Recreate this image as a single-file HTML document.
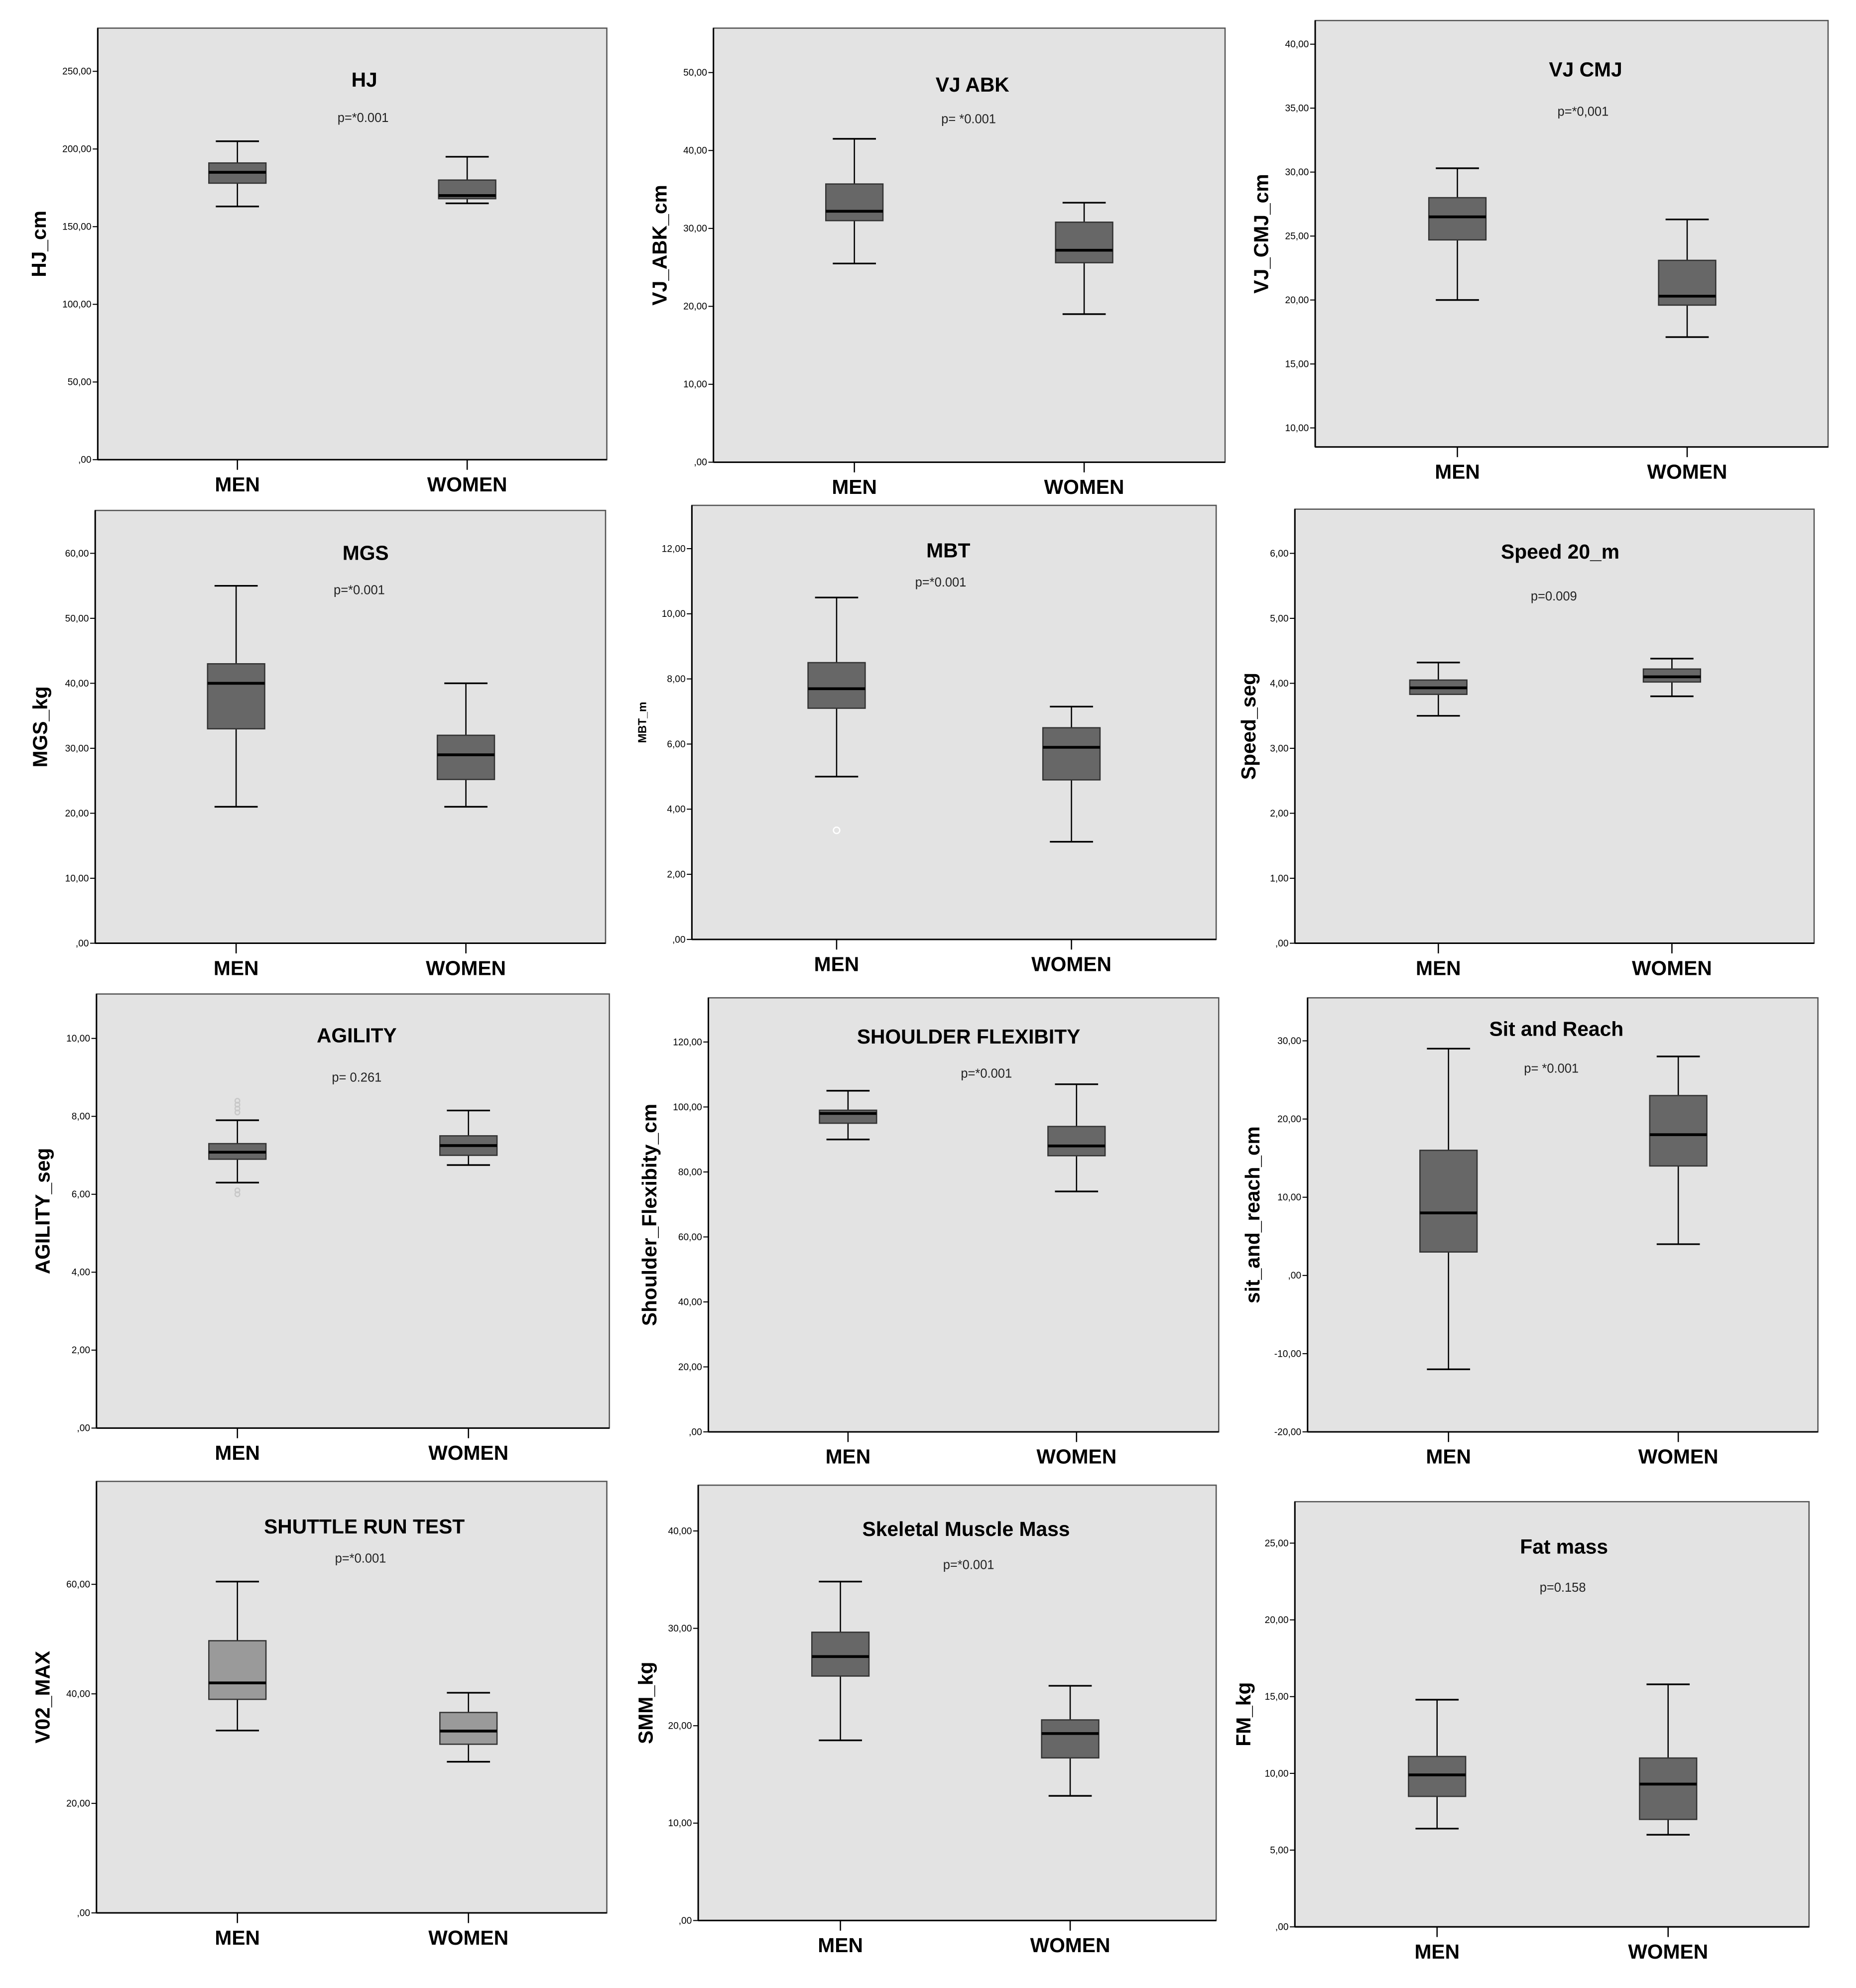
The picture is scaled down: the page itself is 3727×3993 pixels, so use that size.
<!DOCTYPE html>
<html><head><meta charset="utf-8"><style>
html,body{margin:0;padding:0;background:#fff;}
svg{display:block;}
text{font-family:"Liberation Sans",Arial,sans-serif;}
</style></head>
<body>
<svg id="fig" width="3727" height="3993" viewBox="0 0 1462 1566" xmlns="http://www.w3.org/2000/svg"></svg>
<script>
// ---- data ----
const categories = ["MEN", "WOMEN"];
const titles = ["HJ","VJ ABK","VJ CMJ","MGS","MBT","Speed 20_m","AGILITY","SHOULDER FLEXIBITY","Sit and Reach","SHUTTLE RUN TEST","Skeletal Muscle Mass","Fat mass"];
const pvalues = ["p=*0.001","p= *0.001","p=*0,001","p=*0.001","p=*0.001","p=0.009","p= 0.261","p=*0.001","p= *0.001","p=*0.001","p=*0.001","p=0.158"];
const yTitles = ["HJ_cm","VJ_ABK_cm","VJ_CMJ_cm","MGS_kg","MBT_m","Speed_seg","AGILITY_seg","Shoulder_Flexibity_cm","sit_and_reach_cm","V02_MAX","SMM_kg","FM_kg"];
const yDomains = [[0,277.8],[0,55.7],[8.51,41.85],[0,66.6],[0,13.33],[0,6.68],[0,11.14],[0,133.6],[-20,35.5],[0,78.8],[0,44.7],[0,27.7]];
const yTicks = [[0,50,100,150,200,250],[0,10,20,30,40,50],[10,15,20,25,30,35,40],[0,10,20,30,40,50,60],[0,2,4,6,8,10,12],[0,1,2,3,4,5,6],[0,2,4,6,8,10],[0,20,40,60,80,100,120],[-20,-10,0,10,20,30],[0,20,40,60],[0,10,20,30,40],[0,5,10,15,20,25]];
// [whiskerLow, q1, median, q3, whiskerHigh] per category
const menStats = [[163,178,185,191,205],[25.5,31,32.2,35.7,41.5],[20,24.7,26.5,28,30.3],[21,33,40,43,55],[5,7.1,7.7,8.5,10.5],[3.5,3.83,3.93,4.05,4.32],[6.3,6.9,7.08,7.3,7.9],[90,95,98,99,105],[-12,3,8,16,29],[33.3,39,42,49.7,60.5],[18.5,25.1,27.1,29.6,34.8],[6.4,8.5,9.9,11.1,14.8]];
const womenStats = [[165,168,170,180,195],[19,25.6,27.2,30.8,33.3],[17.1,19.6,20.3,23.1,26.3],[21,25.2,29,32,40],[3,4.9,5.9,6.5,7.15],[3.8,4.02,4.1,4.22,4.38],[6.75,7.0,7.25,7.5,8.15],[74,85,88,94,107],[4,14,18,23,28],[27.6,30.8,33.2,36.6,40.2],[12.8,16.7,19.2,20.6,24.1],[6,7,9.3,11,15.8]];
const outlierPanel = [4,6,6,6,6,6,6];
const outlierValues = [3.35,6.0,6.1,8.1,8.2,8.3,8.4];

// ---- layout ----
const frames = [[77,22,478,362],[562,22,965,364],[1036,16,1440,352],[75,402,477,743],[545,398,958,740],[1020,401,1429,743],[76,783,480,1125],[558,786,960,1128],[1030,786,1432,1128],[76,1167,478,1507],[550,1170,958,1513],[1020,1183,1425,1518]];
const catX = [[187,368],[673,854],[1148,1329],[186,367],[659,844],[1133,1317],[187,369],[668,848],[1141,1322],[187,369],[662,843],[1132,1314]];
const titleY = [62,66,54,435,433,434,815,816,810,1202,1204,1218];
const pY = [92,93,87,464,458,469,848,845,841,1227,1232,1250];
const titleX = [287,766,1249,288,747,1229,281,763,1226,287,761,1232];
const pX = [286,763,1247,283,741,1224,281,777,1222,284,763,1231];
const ylabX = [30,519,993,31,506,983,33,511,986,33,508,979];

const NS="http://www.w3.org/2000/svg";
const svg=document.getElementById('fig');
function mk(tag,attrs,parent){const e=document.createElementNS(NS,tag);for(const k in attrs)e.setAttribute(k,attrs[k]);(parent||svg).appendChild(e);return e;}
function fmt(v){let s=v.toFixed(2).replace('.',',');if(s.startsWith('0,'))s=s.slice(1);if(s.startsWith('-0,'))s='-'+s.slice(2);return s;}

for(let i=0;i<12;i++){
  const [x0,y0,x1,y1]=frames[i];
  const [lo,hi]=yDomains[i];
  const Y=v=>y1-(v-lo)/(hi-lo)*(y1-y0);
  const g=mk('g',{});
  
  
  const bg=mk('rect',{x:x0,y:y0,width:x1-x0,height:y1-y0,fill:'#e3e3e3',stroke:'#555','stroke-width':1},g);
  
  
  mk('line',{x1:x0,y1:y1,x2:x1,y2:y1,stroke:'#000','stroke-width':1.2},g);
  mk('line',{x1:x0,y1:y0,x2:x0,y2:y1,stroke:'#000','stroke-width':1.2},g);
  yTicks[i].forEach(t=>{
    const y=Y(t);
    mk('line',{x1:x0-4,y1:y,x2:x0,y2:y,stroke:'#000','stroke-width':0.8},g);
    const tx=mk('text',{x:x0-5,y:y+2.5,'font-size':7.5,'text-anchor':'end',fill:'#000'},g);
    tx.textContent=fmt(t);
    
    
  });
  const tt=mk('text',{x:titleX[i],y:titleY[i]+6,'font-size':16,'font-weight':'bold','text-anchor':'middle'},g);
  tt.textContent=titles[i];
  
  
  const pt=mk('text',{x:pX[i],y:pY[i]+4,'font-size':10,'text-anchor':'middle',fill:'#222'},g);
  pt.textContent=pvalues[i];
  
  
  const cy=(y0+y1)/2;
  const small = i===4;
  const yt=mk('text',{x:ylabX[i]+(small?3:6),y:cy,'font-size':small?9:16,'font-weight':'bold','text-anchor':'middle',transform:`rotate(-90 ${ylabX[i]+(small?3:6)} ${cy})`},g);
  yt.textContent=yTitles[i];
  
  
  const fill = i===9 ? '#9a9a9a' : '#676767';
  [menStats[i],womenStats[i]].forEach((s,c)=>{
    const cx=catX[i][c];
    mk('line',{x1:cx,y1:y1,x2:cx,y2:y1+8,stroke:'#000','stroke-width':1},g);
    const xl=mk('text',{x:cx,y:y1+25,'font-size':16,'font-weight':'bold','text-anchor':'middle'},g);
    xl.textContent=categories[c];
    
    
    const bw=45,cap=17;
    mk('line',{x1:cx,y1:Y(s[0]),x2:cx,y2:Y(s[4]),stroke:'#000','stroke-width':1},g);
    mk('line',{x1:cx-cap,y1:Y(s[0]),x2:cx+cap,y2:Y(s[0]),stroke:'#000','stroke-width':1.3},g);
    mk('line',{x1:cx-cap,y1:Y(s[4]),x2:cx+cap,y2:Y(s[4]),stroke:'#000','stroke-width':1.3},g);
    const b=mk('rect',{x:cx-bw/2,y:Y(s[3]),width:bw,height:Y(s[1])-Y(s[3]),fill:fill,stroke:'#333','stroke-width':1},g);
    
    
    mk('line',{x1:cx-bw/2,y1:Y(s[2]),x2:cx+bw/2,y2:Y(s[2]),stroke:'#000','stroke-width':2.2},g);
  });
  outlierPanel.forEach((p,k)=>{
    if(p!==i)return;
    const o=mk('circle',{cx:catX[i][0],cy:Y(outlierValues[k]),r:i===4?2.5:1.8,fill:'none',stroke:i===4?'#fff':'#c8c8c8','stroke-width':1},g);
    
    
  });
}
</script>
</body></html>
